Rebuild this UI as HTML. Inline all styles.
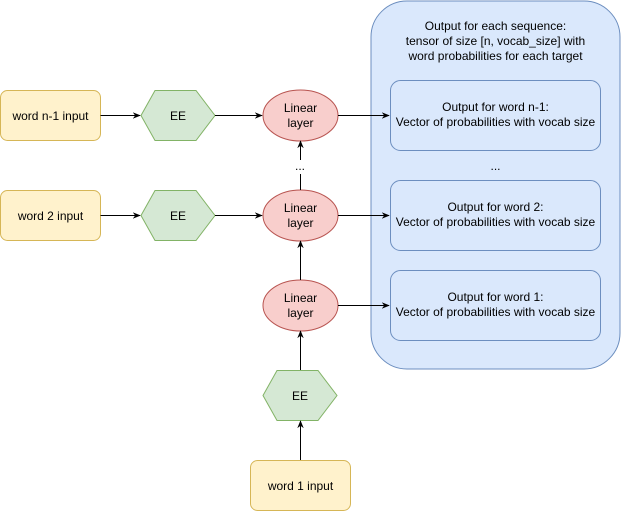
<!DOCTYPE html>
<html><head><style>body{margin:0;background:#fff}svg{display:block}text{font-family:"Liberation Sans",Arial,sans-serif;font-size:12px;fill:#000}</style></head>
<body>
<svg width="621" height="511" viewBox="0 0 621 511" xmlns="http://www.w3.org/2000/svg">
<defs><marker id="a" viewBox="0 0 10 10" refX="9" refY="5" markerWidth="8" markerHeight="8" orient="auto"><path d="M0,1 L10,5 L0,9 L3,5 z" fill="#000"/></marker></defs>
<rect x="371" y="1" width="249" height="368" rx="36" fill="#dae8fc" stroke="#6c8ebf"/>
<text x="495.5" y="30" text-anchor="middle">Output for each sequence:</text>
<text x="495.5" y="45" text-anchor="middle">tensor of size [n, vocab_size] with</text>
<text x="495.5" y="60" text-anchor="middle">word probabilities for each target</text>
<g fill="#dae8fc" stroke="#6c8ebf">
<rect x="390.5" y="80.5" width="210" height="70" rx="10"/>
<rect x="390.5" y="180.5" width="210" height="70" rx="10"/>
<rect x="390.5" y="270.5" width="210" height="70" rx="10"/>
</g>
<g text-anchor="middle">
<text x="495.5" y="111">Output for word n-1:</text><text x="495.5" y="126">Vector of probabilities with vocab size</text>
<text x="495.5" y="211">Output for word 2:</text><text x="495.5" y="226">Vector of probabilities with vocab size</text>
<text x="495.5" y="301">Output for word 1:</text><text x="495.5" y="316">Vector of probabilities with vocab size</text>
<text x="495.5" y="170">...</text>
<text x="300" y="170">...</text>
</g>
<g fill="#fff2cc" stroke="#d6b656">
<rect x="0.5" y="90.5" width="100" height="50" rx="7"/>
<rect x="0.5" y="190.5" width="100" height="50" rx="7"/>
<rect x="250.5" y="460.5" width="100" height="50" rx="7"/>
</g>
<g text-anchor="middle">
<text x="50.5" y="120">word n-1 input</text>
<text x="50.5" y="220">word 2 input</text>
<text x="300.5" y="490">word 1 input</text>
</g>
<g fill="#d5e8d4" stroke="#82b366">
<polygon points="141,115.5 155,90.5 196,90.5 215,115.5 196,140.5 155,140.5"/>
<polygon points="141,215.5 155,190.5 196,190.5 215,215.5 196,240.5 155,240.5"/>
<polygon points="263,395.5 277,370.5 318,370.5 337,395.5 318,420.5 277,420.5"/>
</g>
<g text-anchor="middle"><text x="178" y="120">EE</text><text x="178" y="220">EE</text><text x="300" y="400">EE</text></g>
<g fill="#f8cecc" stroke="#b85450">
<ellipse cx="300.5" cy="115.5" rx="37.5" ry="25.5"/>
<ellipse cx="300.5" cy="215.5" rx="37.5" ry="25.5"/>
<ellipse cx="300.5" cy="305.5" rx="37.5" ry="25.5"/>
</g>
<g text-anchor="middle">
<text x="300.5" y="112">Linear</text><text x="300.5" y="127">layer</text>
<text x="300.5" y="212">Linear</text><text x="300.5" y="227">layer</text>
<text x="300.5" y="302">Linear</text><text x="300.5" y="317">layer</text>
</g>
<g stroke="#000" stroke-width="1" marker-end="url(#a)" fill="none">
<line x1="100.5" y1="115.5" x2="140" y2="115.5"/>
<line x1="100.5" y1="215.5" x2="140" y2="215.5"/>
<line x1="215" y1="115.5" x2="262" y2="115.5"/>
<line x1="215" y1="215.5" x2="262" y2="215.5"/>
<line x1="338" y1="115.5" x2="389" y2="115.5"/>
<line x1="338" y1="215.5" x2="389" y2="215.5"/>
<line x1="338" y1="305.5" x2="389" y2="305.5"/>
<line x1="300.5" y1="460" x2="300.5" y2="421"/>
<line x1="300.5" y1="370" x2="300.5" y2="331"/>
<line x1="300.5" y1="280" x2="300.5" y2="241"/>
<line x1="300.5" y1="160" x2="300.5" y2="141"/>
</g>
<line x1="300.5" y1="190" x2="300.5" y2="174" stroke="#000"/>
</svg>
</body></html>
